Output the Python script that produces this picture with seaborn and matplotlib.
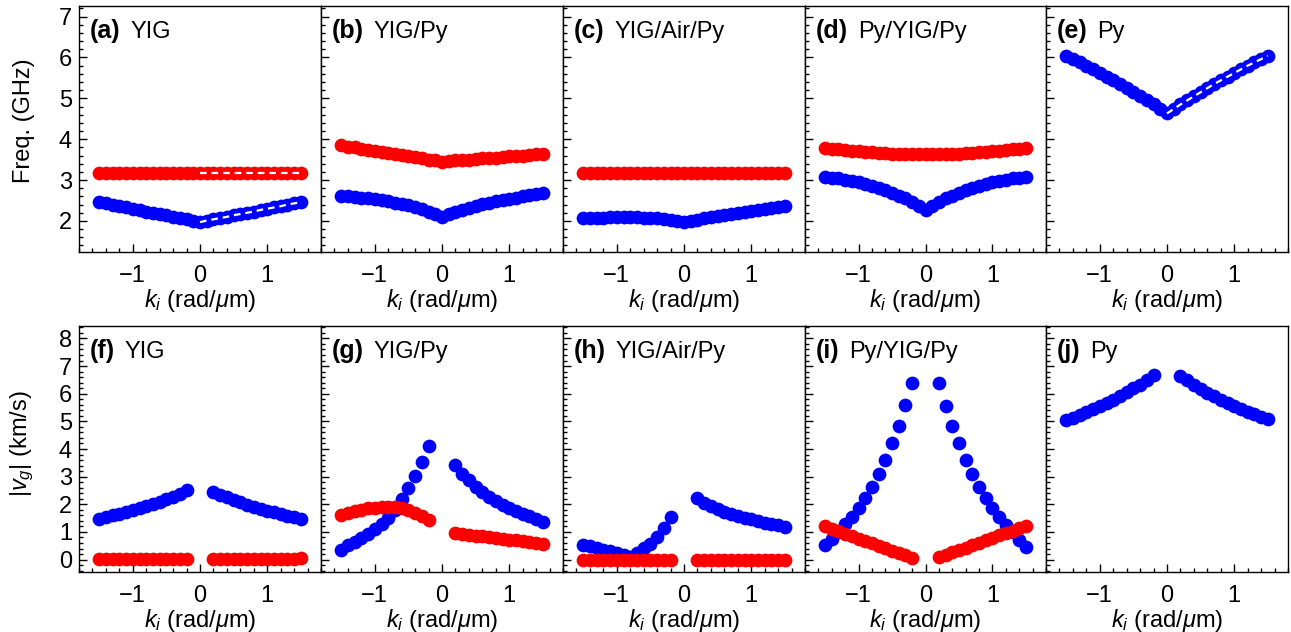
import matplotlib
matplotlib.use("Agg")
import matplotlib.pyplot as plt
from matplotlib.ticker import MultipleLocator
import seaborn as sns

# ---------------- data ----------------
K_FREQ = [-1.5, -1.4, -1.3, -1.2, -1.1, -1.0, -0.9, -0.8, -0.7, -0.6, -0.5, -0.4, -0.3, -0.2, -0.1, 0.0,
          0.1, 0.2, 0.3, 0.4, 0.5, 0.6, 0.7, 0.8, 0.9, 1.0, 1.1, 1.2, 1.3, 1.4, 1.5]
K_VG = [-1.5, -1.4, -1.3, -1.2, -1.1, -1.0, -0.9, -0.8, -0.7, -0.6, -0.5, -0.4, -0.3, -0.2,
        0.2, 0.3, 0.4, 0.5, 0.6, 0.7, 0.8, 0.9, 1.0, 1.1, 1.2, 1.3, 1.4, 1.5]

# Frequencies (GHz)
A_RED = [3.18, 3.18, 3.18, 3.18, 3.18, 3.18, 3.18, 3.18, 3.18, 3.18, 3.18, 3.18, 3.18, 3.18, 3.18, 3.18,
         3.18, 3.18, 3.18, 3.18, 3.18, 3.18, 3.18, 3.18, 3.18, 3.18, 3.18, 3.18, 3.18, 3.18, 3.18]
A_BLUE = [2.46, 2.43, 2.40, 2.36, 2.33, 2.30, 2.27, 2.23, 2.20, 2.17, 2.14, 2.10, 2.07, 2.04, 2.01, 1.97,
          2.01, 2.04, 2.07, 2.10, 2.14, 2.17, 2.20, 2.23, 2.27, 2.30, 2.33, 2.36, 2.40, 2.43, 2.46]
B_RED = [3.85, 3.82, 3.80, 3.77, 3.74, 3.72, 3.69, 3.66, 3.64, 3.61, 3.58, 3.56, 3.53, 3.50, 3.48, 3.45,
         3.47, 3.48, 3.49, 3.50, 3.51, 3.53, 3.54, 3.55, 3.57, 3.58, 3.59, 3.60, 3.61, 3.63, 3.64]
B_BLUE = [2.61, 2.60, 2.58, 2.57, 2.55, 2.53, 2.51, 2.48, 2.45, 2.42, 2.38, 2.34, 2.29, 2.23, 2.17, 2.10,
          2.16, 2.22, 2.27, 2.32, 2.37, 2.41, 2.44, 2.48, 2.51, 2.54, 2.57, 2.60, 2.63, 2.66, 2.69]
C_RED = [3.18, 3.18, 3.18, 3.18, 3.18, 3.18, 3.18, 3.18, 3.18, 3.18, 3.18, 3.18, 3.18, 3.18, 3.18, 3.18,
         3.18, 3.18, 3.18, 3.18, 3.18, 3.18, 3.18, 3.18, 3.18, 3.18, 3.18, 3.18, 3.18, 3.18, 3.18]
C_BLUE = [2.06, 2.07, 2.075, 2.08, 2.085, 2.09, 2.09, 2.09, 2.09, 2.08, 2.07, 2.06, 2.04, 2.02, 2.00, 1.97,
          2.00, 2.03, 2.06, 2.09, 2.12, 2.14, 2.17, 2.19, 2.22, 2.24, 2.27, 2.29, 2.32, 2.34, 2.37]
D_RED = [3.790, 3.770, 3.751, 3.733, 3.717, 3.702, 3.688, 3.676, 3.665, 3.656, 3.648, 3.641, 3.636, 3.632, 3.630, 3.630,
         3.630, 3.632, 3.636, 3.641, 3.648, 3.656, 3.665, 3.676, 3.688, 3.702, 3.717, 3.733, 3.751, 3.770, 3.790]
D_BLUE = [3.08, 3.06, 3.04, 3.01, 2.98, 2.95, 2.91, 2.86, 2.81, 2.75, 2.69, 2.62, 2.55, 2.46, 2.37, 2.28,
          2.37, 2.46, 2.55, 2.62, 2.69, 2.75, 2.81, 2.86, 2.91, 2.95, 2.98, 3.01, 3.04, 3.06, 3.08]
E_BLUE = [6.04, 5.96, 5.88, 5.80, 5.71, 5.62, 5.53, 5.44, 5.35, 5.25, 5.15, 5.05, 4.95, 4.85, 4.74, 4.63,
          4.74, 4.85, 4.95, 5.05, 5.15, 5.25, 5.35, 5.44, 5.53, 5.62, 5.71, 5.80, 5.88, 5.96, 6.04]

# Group velocities (km/s)
F_RED = [0.01, 0.01, 0.01, 0.01, 0.01, 0.01, 0.01, 0.01, 0.01, 0.01, 0.01, 0.01, 0.01, 0.01,
         0.01, 0.01, 0.01, 0.01, 0.01, 0.01, 0.02, 0.02, 0.02, 0.02, 0.03, 0.03, 0.03, 0.04]
F_BLUE = [1.48, 1.54, 1.60, 1.66, 1.72, 1.79, 1.86, 1.93, 2.01, 2.09, 2.18, 2.27, 2.38, 2.50,
          2.45, 2.35, 2.25, 2.16, 2.07, 1.99, 1.91, 1.84, 1.77, 1.71, 1.65, 1.59, 1.54, 1.48]
G_RED = [1.63, 1.70, 1.76, 1.81, 1.85, 1.88, 1.90, 1.91, 1.89, 1.85, 1.79, 1.69, 1.57, 1.44,
         0.96, 0.93, 0.90, 0.87, 0.84, 0.81, 0.78, 0.75, 0.72, 0.69, 0.66, 0.63, 0.60, 0.57]
G_BLUE = [0.35, 0.51, 0.65, 0.79, 0.93, 1.11, 1.29, 1.51, 1.78, 2.20, 2.60, 3.04, 3.53, 4.11,
          3.43, 3.10, 2.87, 2.63, 2.44, 2.26, 2.12, 1.99, 1.86, 1.76, 1.66, 1.56, 1.46, 1.36]
H_RED = [0.00, 0.00, 0.00, 0.00, 0.00, 0.00, 0.00, 0.00, 0.00, 0.00, 0.00, 0.00, 0.00, 0.00,
         0.00, 0.00, 0.00, 0.00, 0.00, 0.00, 0.00, 0.00, 0.00, 0.00, 0.00, 0.00, 0.00, 0.00]
H_BLUE = [0.54, 0.48, 0.42, 0.36, 0.30, 0.24, 0.17, 0.08, 0.25, 0.42, 0.57, 0.81, 1.13, 1.55,
          2.22, 2.06, 1.93, 1.82, 1.72, 1.64, 1.57, 1.51, 1.45, 1.39, 1.34, 1.29, 1.24, 1.19]
I_RED = [1.20, 1.11, 1.02, 0.94, 0.85, 0.76, 0.67, 0.59, 0.50, 0.41, 0.32, 0.24, 0.15, 0.06,
         0.08, 0.17, 0.26, 0.35, 0.43, 0.52, 0.61, 0.70, 0.79, 0.88, 0.97, 1.05, 1.14, 1.23]
I_BLUE = [0.51, 0.75, 1.00, 1.27, 1.53, 1.87, 2.22, 2.64, 3.10, 3.61, 4.21, 4.82, 5.58, 6.40,
          6.38, 5.55, 4.82, 4.20, 3.62, 3.10, 2.64, 2.22, 1.86, 1.53, 1.24, 0.98, 0.72, 0.45]
J_BLUE = [5.04, 5.13, 5.23, 5.33, 5.44, 5.55, 5.67, 5.79, 5.92, 6.05, 6.19, 6.33, 6.49, 6.66,
          6.65, 6.48, 6.32, 6.18, 6.04, 5.91, 5.79, 5.67, 5.56, 5.45, 5.35, 5.25, 5.16, 5.07]

TOP_TAGS = ["(a)", "(b)", "(c)", "(d)", "(e)"]
BOT_TAGS = ["(f)", "(g)", "(h)", "(i)", "(j)"]
NAMES = ["YIG", "YIG/Py", "YIG/Air/Py", "Py/YIG/Py", "Py"]

TOP_RED = [A_RED, B_RED, C_RED, D_RED, None]
TOP_BLUE = [A_BLUE, B_BLUE, C_BLUE, D_BLUE, E_BLUE]
TOP_DASHED = [[A_RED, A_BLUE], [], [], [], [E_BLUE]]
BOT_RED = [F_RED, G_RED, H_RED, I_RED, None]
BOT_BLUE = [F_BLUE, G_BLUE, H_BLUE, I_BLUE, J_BLUE]

# ---------------- style ----------------
sns.set_style("ticks")
plt.rcParams["font.family"] = ["Liberation Sans", "DejaVu Sans"]
plt.rcParams["mathtext.fontset"] = "custom"
plt.rcParams["mathtext.rm"] = "Liberation Sans"
plt.rcParams["mathtext.it"] = "Liberation Sans:italic"
plt.rcParams["mathtext.bf"] = "Liberation Sans:bold"
plt.rcParams["axes.unicode_minus"] = True
for key in ["text.color", "axes.labelcolor", "xtick.color", "ytick.color",
            "xtick.labelcolor", "ytick.labelcolor", "axes.edgecolor"]:
    plt.rcParams[key] = "black"

RED = "#ff0000"
BLUE = "#0000ff"
FS = 17
MS = 98

W, H = 1291, 632
fig = plt.figure(figsize=(W / 100, H / 100), dpi=100)
lefts = [79, 321, 563, 805, 1046]
rows = [(6, 252), (326, 572)]


def style_axis(ax, col, ylim, ymaj):
    ax.set_xlim(-1.8, 1.8)
    ax.set_ylim(*ylim)
    ax.xaxis.set_major_locator(MultipleLocator(1))
    ax.xaxis.set_minor_locator(MultipleLocator(0.2))
    ax.yaxis.set_major_locator(MultipleLocator(ymaj))
    ax.yaxis.set_minor_locator(MultipleLocator(0.2))
    ax.tick_params(which="both", direction="in", top=False, right=False,
                   labelsize=FS, width=1.0, color="black", labelcolor="black")
    ax.tick_params(which="major", length=6)
    ax.tick_params(which="minor", length=3)
    ax.tick_params(axis="x", which="both", pad=9)
    ax.tick_params(axis="y", which="both", pad=5)
    if col > 0:
        ax.tick_params(labelleft=False)
    for sp in ax.spines.values():
        sp.set_visible(True)
        sp.set_linewidth(1.0)
        sp.set_color("black")
    ax.set_xlabel(r"$k_i$ (rad/$\mu$m)", fontsize=FS, labelpad=0, color="black")


def add_title(ax, tag, name):
    t1 = ax.text(0.045, 0.85, tag, transform=ax.transAxes, fontsize=FS + 1,
                 fontweight="bold", ha="left", va="bottom", color="black")
    ax.annotate(name, xy=(1, 0), xycoords=t1, xytext=(7, 0), color="black",
                textcoords="offset points", fontsize=FS, ha="left", va="bottom")


for r, (ytop, ybot) in enumerate(rows):
    for c in range(5):
        width = (lefts[c + 1] - lefts[c]) if c < 4 else 1288 - lefts[c]
        ax = fig.add_axes([lefts[c] / W, (H - ybot) / H, width / W, (ybot - ytop) / H])
        if r == 0:
            if TOP_BLUE[c] is not None:
                sns.scatterplot(x=K_FREQ, y=TOP_BLUE[c], color=BLUE, s=MS, linewidth=0,
                                ax=ax, legend=False, zorder=2)
            if TOP_RED[c] is not None:
                sns.scatterplot(x=K_FREQ, y=TOP_RED[c], color=RED, s=MS, linewidth=0,
                                ax=ax, legend=False, zorder=3)
            for ser in TOP_DASHED[c]:
                sns.lineplot(x=K_FREQ[15:], y=ser[15:], color="white", linewidth=1.6,
                             linestyle=(0, (3, 2.2)), ax=ax, legend=False, zorder=4,
                             estimator=None, sort=False)
            style_axis(ax, c, (1.24, 7.26), 1)
            add_title(ax, TOP_TAGS[c], NAMES[c])
            if c == 0:
                ax.set_ylabel("Freq. (GHz)", fontsize=FS, color="black")
                ax.yaxis.set_label_coords(-0.183, 0.535)
        else:
            if BOT_BLUE[c] is not None:
                sns.scatterplot(x=K_VG, y=BOT_BLUE[c], color=BLUE, s=MS, linewidth=0,
                                ax=ax, legend=False, zorder=2)
            if BOT_RED[c] is not None:
                sns.scatterplot(x=K_VG, y=BOT_RED[c], color=RED, s=MS, linewidth=0,
                                ax=ax, legend=False, zorder=3)
            style_axis(ax, c, (-0.45, 8.45), 1)
            add_title(ax, BOT_TAGS[c], NAMES[c])
            if c == 0:
                ax.set_ylabel(r"|$v_g$| (km/s)", fontsize=FS, color="black")
                ax.yaxis.set_label_coords(-0.178, 0.52)

fig.savefig("out.png", dpi=100)
